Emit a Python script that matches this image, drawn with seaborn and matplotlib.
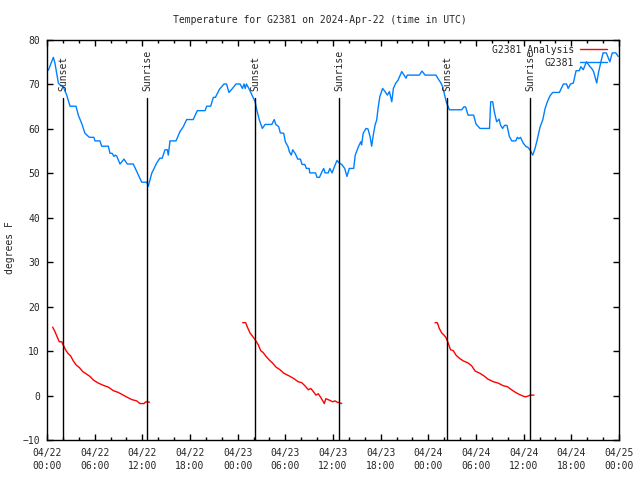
import numpy as np
import pandas as pd
import matplotlib
matplotlib.use('Agg')
import matplotlib.pyplot as plt
import seaborn as sns

# 观测站温度（小时数，相对 2024-04-22 00:00 UTC）
obs_hours = [0.17, 0.8, 1.0, 1.43, 1.64, 2.05, 2.48, 2.9, 3.65, 3.94, 4.37, 4.78, 5.33, 5.9,
             6.04, 6.67, 6.88, 7.72, 7.93, 8.2, 8.43, 8.6, 8.77, 9.19, 9.69, 10.1, 10.86, 11.5,
             11.92, 12.55, 12.75, 13.18, 13.8, 14.2, 14.5, 14.85, 15.15, 15.27, 15.48, 16.24,
             16.74, 17.16, 17.58, 18.4, 18.92, 19.9, 20.1, 20.6, 20.94, 21.2, 21.7, 22.28,
             22.6, 22.9, 23.25, 23.8, 24.3, 24.6, 24.8, 24.95, 25.1, 25.5, 25.8, 26.2, 26.4,
             26.73, 27.1, 27.45, 28.3, 28.6, 28.8, 29.16, 29.37, 29.8, 30.0, 30.34, 30.5,
             30.75, 30.93, 31.26, 31.56, 31.9, 32.1, 32.45, 32.65, 33.0, 33.07, 33.8, 33.99,
             34.3, 34.62, 34.83, 35.0, 35.4, 35.6, 35.88, 36.2, 36.5, 36.8, 37.1, 37.47,
             37.76, 38.05, 38.6, 38.8, 39.2, 39.5, 39.6, 39.8, 40.15, 40.4, 40.66, 40.87,
             41.07, 41.3, 41.5, 41.7, 41.9, 42.25, 42.55, 42.85, 43.1, 43.4, 43.6, 43.9,
             44.2, 44.65, 44.94, 45.2, 45.35, 46.87, 47.2, 47.6, 48.97, 49.26, 49.56, 49.8,
             50.1, 50.3, 50.5, 50.65, 52.2, 52.5, 52.7, 53.0, 53.7, 54.0, 54.5, 55.7, 55.85,
             56.1, 56.3, 56.6, 56.9, 57.1, 57.35, 57.6, 57.9, 58.2, 58.5, 59.0, 59.2, 59.4,
             59.6, 59.95, 60.3, 60.5, 60.8, 61.14, 61.43, 61.7, 62.06, 62.4, 62.7, 62.98,
             63.3, 63.66, 64.5, 65.0, 65.4, 65.6, 65.9, 66.25, 66.6, 67.0, 67.2, 67.5, 67.9,
             68.35, 68.56, 68.8, 69.2, 69.4, 69.7, 70.0, 70.4, 70.85, 71.15, 71.6, 71.9]
obs_temp = [73.2, 76.1, 74.8, 70.3, 69.9, 69.5, 67.6, 65.1, 65.1, 63.1, 61.2, 59.0, 58.1, 58.1,
            57.3, 57.3, 56.1, 56.1, 54.5, 54.5, 53.8, 54.1, 53.9, 52.1, 53.2, 52.1, 52.1, 49.6,
            48.0, 48.0, 47.1, 50.0, 52.3, 53.4, 53.4, 55.3, 55.3, 54.1, 57.3, 57.3,
            59.4, 60.5, 62.1, 62.1, 64.1, 64.1, 65.1, 65.1, 67.1, 67.1, 68.9, 70.1,
            70.1, 68.2, 68.9, 70.1, 70.1, 69.1, 70.1, 69.1, 70.1, 68.8, 67.6, 66.1, 64.3,
            62.0, 60.1, 61.0, 61.0, 62.1, 61.0, 60.5, 59.1, 59.0, 57.1, 56.0, 54.9,
            54.1, 55.3, 54.4, 53.2, 53.2, 52.0, 52.0, 51.1, 51.1, 50.1, 50.1, 49.1,
            49.1, 50.4, 51.1, 50.1, 50.1, 51.1, 50.1, 51.6, 52.9, 52.3, 52.0, 51.1,
            49.3, 51.1, 51.1, 54.1, 56.0, 57.1, 56.4, 59.0, 60.1, 60.0, 58.3, 56.1,
            58.6, 60.9, 62.0, 65.0, 67.3, 69.1, 68.4, 67.6, 68.4, 66.1, 69.1, 70.3,
            71.0, 72.9, 72.1, 71.4, 72.1, 72.1, 73.0, 72.1, 72.1, 71.2, 70.4, 69.5,
            67.3, 65.8, 65.0, 64.3, 64.3, 65.0, 64.9, 63.1, 63.1, 61.1, 60.1, 60.1, 66.1,
            66.1, 63.9, 61.6, 62.2, 60.8, 60.1, 60.8, 60.8, 58.3, 57.3, 57.3, 58.1, 57.8,
            58.1, 56.8, 56.0, 55.9, 55.3, 54.1, 55.6, 57.5, 60.4, 62.0, 64.6, 66.1,
            67.4, 68.2, 68.2, 70.1, 70.1, 69.1, 70.1, 70.3, 73.1, 73.1, 74.0, 73.3, 75.1,
            74.0, 73.6, 72.9, 70.3, 72.5, 74.9, 77.1, 77.1, 75.1, 77.1, 77.1, 76.3]

# 分析值（只有夜间三段）
ana_hours_1 = [0.71, 1.0, 1.3, 1.55, 1.85, 2.14, 2.4, 2.68, 2.98, 3.31, 3.65, 4.07, 4.49, 5.0,
               5.41, 5.83, 6.46, 7.09, 7.72, 8.35, 8.98, 9.6, 10.1, 10.66, 11.29, 11.7, 12.2,
               12.46, 12.9]
ana_temp_1 = [15.4, 14.4, 13.1, 12.1, 12.1, 11.0, 10.1, 9.4, 8.9, 7.8, 6.9, 6.3, 5.4, 4.8,
              4.3, 3.5, 2.8, 2.3, 1.9, 1.1, 0.7, 0.1, -0.4, -0.9, -1.2, -1.8, -1.8,
              -1.4, -1.5]
ana_hours_2 = [24.63, 25.0, 25.2, 25.55, 25.85, 26.18, 26.6, 26.9, 27.2, 27.57, 27.98, 28.4,
               28.83, 29.33, 29.83, 30.5, 31.0, 31.63, 32.06, 32.47, 32.9, 33.2, 33.52, 33.86,
               34.15, 34.45, 34.78, 34.9, 35.1, 35.5, 35.96, 36.25, 36.55, 37.1]
ana_temp_2 = [16.4, 16.4, 15.5, 14.1, 13.4, 12.6, 11.4, 10.1, 9.7, 8.8, 8.0, 7.3,
              6.4, 5.8, 5.0, 4.4, 3.9, 3.1, 2.9, 2.2, 1.3, 1.6, 0.9, 0.1,
              0.4, -0.4, -1.4, -1.8, -0.7, -1.0, -1.4, -1.2, -1.5, -1.8]
ana_hours_3 = [48.84, 49.13, 49.38, 49.68, 49.97, 50.2, 50.5, 50.8, 51.14, 51.48, 51.9, 52.4,
               53.03, 53.45, 53.9, 54.5, 55.1, 55.5, 56.2, 56.8, 57.44, 57.95, 58.4, 58.9,
               59.4, 59.9, 60.2, 60.6, 60.8, 61.3]
ana_temp_3 = [16.4, 16.4, 15.1, 14.1, 13.6, 13.1, 11.8, 10.3, 10.1, 9.1, 8.4, 7.8,
              7.3, 6.7, 5.5, 5.0, 4.3, 3.7, 3.1, 2.8, 2.2, 2.0, 1.4, 0.8,
              0.3, -0.1, -0.3, -0.1, 0.1, 0.1]

sunset_hours = [2.05, 26.18, 50.39]
sunrise_hours = [12.63, 36.8, 60.8]
marker_top = 67

tick_hours = list(range(0, 73, 6))
tick_labels = ['04/22\n00:00', '04/22\n06:00', '04/22\n12:00', '04/22\n18:00',
               '04/23\n00:00', '04/23\n06:00', '04/23\n12:00', '04/23\n18:00',
               '04/24\n00:00', '04/24\n06:00', '04/24\n12:00', '04/24\n18:00',
               '04/25\n00:00']

sns.set_style('ticks')
plt.rcParams['font.family'] = ['DejaVu Sans Mono']
plt.rcParams['font.size'] = 7

obs_df = pd.DataFrame({'hours': obs_hours, 'temp': obs_temp})
ana_df = pd.concat([
    pd.DataFrame({'hours': h, 'temp': t, 'night': i})
    for i, (h, t) in enumerate([(ana_hours_1, ana_temp_1),
                                (ana_hours_2, ana_temp_2),
                                (ana_hours_3, ana_temp_3)])
])

fig = plt.figure(figsize=(6.4, 4.8), dpi=100)
ax = fig.add_axes([47 / 640, 40 / 480, 572 / 640, 400 / 480])

sns.lineplot(data=ana_df, x='hours', y='temp', units='night', estimator=None,
             color='#ff0000', lw=1, ax=ax, legend=False)
red_line = ax.lines[0]
sns.lineplot(data=obs_df, x='hours', y='temp', estimator=None, sort=False,
             color='#0080ff', lw=1, ax=ax, legend=False)
blue_line = ax.lines[-1]

# 日出日落竖线
for h in sunset_hours:
    ax.plot([h, h], [-10, marker_top], color='black', lw=1)
    ax.text(h, marker_top + 1.5, 'Sunset', rotation=90, ha='center', va='bottom')
for h in sunrise_hours:
    ax.plot([h, h], [-10, marker_top], color='black', lw=1)
    ax.text(h, marker_top + 1.5, 'Sunrise', rotation=90, ha='center', va='bottom')

ax.set_xlim(0, 72)
ax.set_ylim(-10, 80)
ax.set_xticks(tick_hours)
ax.set_xticklabels(tick_labels, linespacing=1.35)
ax.set_xticks(np.arange(0, 73, 2), minor=True)
ax.set_yticks(np.arange(-10, 81, 10))
ax.tick_params(which='both', direction='in', top=True, right=True, color='black')
ax.tick_params(which='major', length=4, width=1)
ax.tick_params(which='minor', length=2.5, width=1)
ax.tick_params(axis='x', which='major', pad=6)
ax.tick_params(axis='y', which='major', pad=5)
for s in ax.spines.values():
    s.set_color('black')
    s.set_linewidth(1)
ax.set_xlabel('')
ax.set_ylabel('')

fig.text(10 / 640, 1 - 248 / 480, 'degrees F', rotation=90, ha='center', va='center')
fig.text(0.5, 1 - 20 / 480, 'Temperature for G2381 on 2024-Apr-22 (time in UTC)',
         ha='center', va='center')

ax.legend([red_line, blue_line], ['G2381 Analysis', 'G2381'], loc='upper right',
          bbox_to_anchor=(1 - 7 / 572, 1), markerfirst=False, frameon=False,
          handlelength=2.8, handletextpad=0.6, labelspacing=0.3, borderaxespad=0.2,
          borderpad=0.3)

fig.savefig('out.png', dpi=100)
